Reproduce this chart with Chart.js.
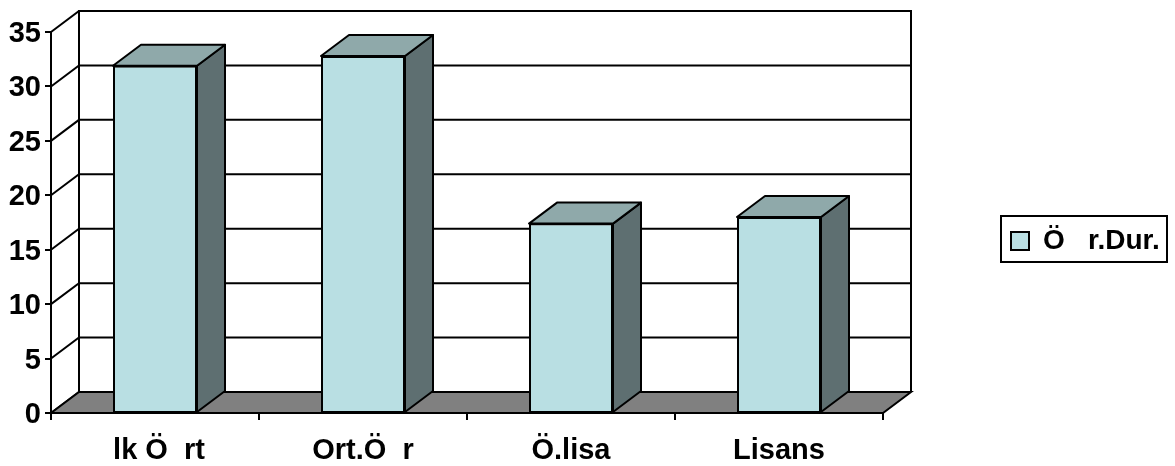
<!DOCTYPE html>
<html>
<head>
<meta charset="utf-8">
<style>
    html, body { margin: 0; padding: 0; background: #fff; }
    canvas { display: block; }
</style>
<script src="https://cdn.jsdelivr.net/npm/chart.js@4"></script>
</head>
<body>
<canvas id="chart" width="1175" height="466"></canvas>
<script>
const categories = [' lk Ö  rt', 'Ort.Ö  r', 'Ö.lisa', 'Lisans'];
const seriesName = 'Ö   r.Dur.';
const seriesValues = [31.9, 32.8, 17.4, 18.0];

const FONT = { family: '"Liberation Sans", Arial, sans-serif', size: 29, weight: 'bold' };
const LEGEND_FONT = { family: '"Liberation Sans", Arial, sans-serif', size: 28, weight: 'bold' };
// how far the back wall sits behind the front plane
const DX = 28;
const DY = 21;
const FRONT = '#b9dfe3';
const TOP = '#8fa9aa';
const SIDE = '#5e6f71';
const FLOOR = '#808080';

function poly(ctx, pts, fill) {
    ctx.beginPath();
    pts.forEach((p, i) => i ? ctx.lineTo(p[0], p[1]) : ctx.moveTo(p[0], p[1]));
    ctx.closePath();
    if (fill) {
        ctx.fillStyle = fill;
        ctx.fill();
    }
    ctx.stroke();
}

const box3d = {
    id: 'box3d',
    beforeLayout(chart) {
        // legend keeps the gap right of the plot, it gets moved afterwards
        const legend = chart.legend;
        if (!legend.wideFit) {
            const fit = legend.fit;
            legend.fit = function () {
                fit.call(this);
                this.width = 284;
            };
            legend.wideFit = true;
        }
    },
    afterLayout(chart) {
        const l = chart.legend;
        l.left = 1000;
        l.right = 1167;
        l.top = 216;
        l.bottom = 262;
        l.width = 167;
        l.height = 46;
    },
    beforeDatasetsDraw(chart) {
        const { ctx, chartArea: a, scales: { y } } = chart;
        ctx.save();
        ctx.strokeStyle = '#000';
        ctx.lineWidth = 2;
        // back wall
        ctx.beginPath();
        ctx.moveTo(a.left + DX, y.getPixelForValue(0) - DY);
        ctx.lineTo(a.left + DX, a.top - DY);
        ctx.lineTo(a.right + DX, a.top - DY);
        ctx.lineTo(a.right + DX, a.bottom - DY);
        ctx.stroke();
        // grid lines on wall, diagonals on the side wall
        y.ticks.forEach(t => {
            const py = y.getPixelForValue(t.value);
            ctx.beginPath();
            ctx.moveTo(a.left, py);
            ctx.lineTo(a.left + DX, py - DY);
            if (t.value > 0) ctx.lineTo(a.right + DX, py - DY);
            ctx.stroke();
        });
        // floor
        poly(ctx, [
            [a.left, a.bottom],
            [a.left + DX, a.bottom - DY],
            [a.right + DX, a.bottom - DY],
            [a.right, a.bottom]
        ], FLOOR);
        ctx.restore();
    },
    afterDatasetsDraw(chart) {
        const { ctx } = chart;
        ctx.save();
        ctx.strokeStyle = '#000';
        ctx.lineWidth = 2;
        ctx.lineJoin = 'round';
        chart.getDatasetMeta(0).data.forEach(bar => {
            const l = bar.x - bar.width / 2;
            const r = bar.x + bar.width / 2;
            poly(ctx, [[r, bar.y], [r + DX, bar.y - DY], [r + DX, bar.base - DY], [r, bar.base]], SIDE);
            poly(ctx, [[l, bar.y], [l + DX, bar.y - DY], [r + DX, bar.y - DY], [r, bar.y]], TOP);
            // axis line in front of the bar foot
            ctx.beginPath();
            ctx.moveTo(l, bar.base);
            ctx.lineTo(r, bar.base);
            ctx.stroke();
        });
        ctx.restore();
    },
    beforeDraw(chart) {
        const { ctx } = chart;
        ctx.save();
        ctx.strokeStyle = '#000';
        ctx.lineWidth = 2;
        ctx.strokeRect(1001, 216, 166, 46);
        ctx.restore();
    }
};

new Chart(document.getElementById('chart'), {
    type: 'bar',
    data: {
        labels: categories,
        datasets: [{
            label: seriesName,
            data: seriesValues,
            backgroundColor: FRONT,
            borderColor: '#000',
            borderWidth: 2,
            barPercentage: 84 / 208,
            categoryPercentage: 1
        }]
    },
    options: {
        responsive: false,
        animation: false,
        layout: { padding: { top: 32, right: 8, left: 0, bottom: 0 } },
        plugins: {
            tooltip: { enabled: false },
            legend: {
                position: 'right',
                align: 'start',
                labels: {
                    boxWidth: 18,
                    boxHeight: 18,
                    padding: 11,
                    color: '#000',
                    font: LEGEND_FONT
                }
            }
        },
        scales: {
            x: {
                afterFit: s => { s.height = 53; },
                grid: { drawOnChartArea: false, color: '#000', lineWidth: 2, tickLength: 7 },
                border: { color: '#000', width: 2 },
                ticks: { color: '#000', font: FONT, padding: 14, maxRotation: 0 }
            },
            y: {
                min: 0,
                max: 35,
                afterFit: s => { s.width = 51; },
                grid: { drawOnChartArea: false, color: '#000', lineWidth: 2, tickLength: 6 },
                border: { color: '#000', width: 2 },
                ticks: { color: '#000', font: FONT, stepSize: 5, padding: 4, labelOffset: 2 }
            }
        }
    },
    plugins: [box3d]
});
</script>
</body>
</html>
